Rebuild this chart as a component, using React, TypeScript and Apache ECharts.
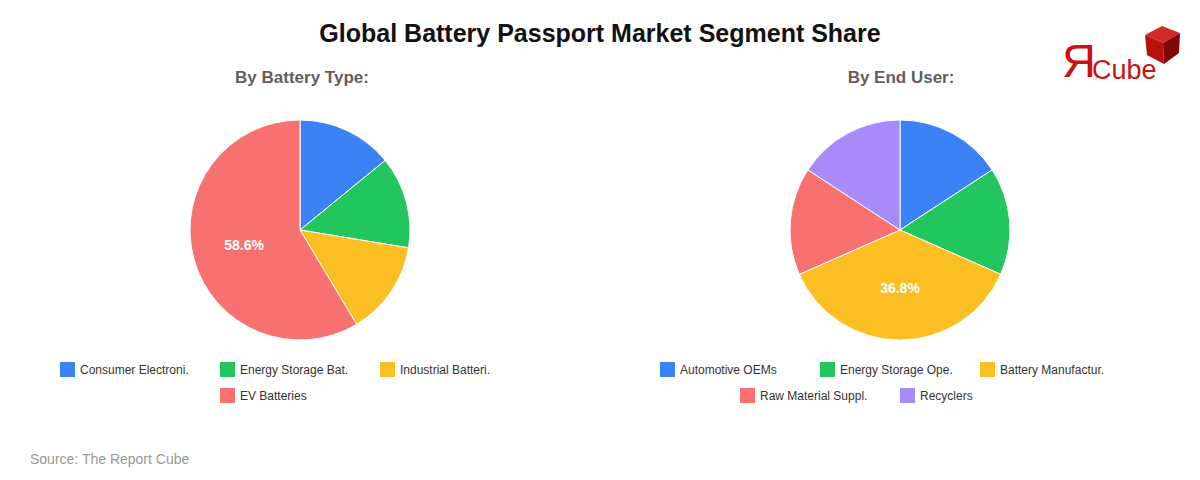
import React, { useEffect, useRef } from "react";
import * as echarts from "echarts";

const TITLE = "Global Battery Passport Market Segment Share";
const SOURCE = "Source: The Report Cube";

const typeTitle = "By Battery Type:";
const typeNames = ["Consumer Electroni.", "Energy Storage Bat.", "Industrial Batteri.", "EV Batteries"];
const typeValues = [14.1, 13.5, 13.8, 58.6];

const userTitle = "By End User:";
const userNames = ["Automotive OEMs", "Energy Storage Ope.", "Battery Manufactur.", "Raw Material Suppl.", "Recyclers"];
const userValues = [15.8, 15.8, 36.8, 15.8, 15.8];

const COLORS = ["#3b82f6", "#22c55e", "#fbbf24", "#f87171", "#a78bfa"];
const FONT = "'Liberation Sans', Arial, Helvetica, sans-serif";

// legend item positions (icon left x, row top y)
const typeLegendPos = [
  [60, 362],
  [220, 362],
  [380, 362],
  [220, 388],
];
const userLegendPos = [
  [660, 362],
  [820, 362],
  [980, 362],
  [740, 388],
  [900, 388],
];

function makePie(names: string[], values: number[], cx: number) {
  return {
    type: "pie",
    center: [cx, 230],
    radius: [0, 110],
    startAngle: 90,
    clockwise: true,
    avoidLabelOverlap: false,
    itemStyle: { borderColor: "#ffffff", borderWidth: 1 },
    label: {
      show: true,
      position: "inside",
      color: "#ffffff",
      fontSize: 14,
      fontWeight: "bold",
      fontFamily: FONT,
      formatter: (p: any) => (p.value > 30 ? p.value.toFixed(1) + "%" : ""),
    },
    labelLine: { show: false },
    emphasis: { disabled: true },
    data: names.map((n, i) => ({ name: n, value: values[i], itemStyle: { color: COLORS[i] } })),
  };
}

function makeLegends(names: string[], pos: number[][]) {
  return names.map((n, i) => ({
    data: [n],
    left: pos[i][0],
    top: pos[i][1],
    padding: 0,
    icon: "rect",
    itemWidth: 15,
    itemHeight: 15,
    itemGap: 5,
    itemStyle: { borderWidth: 0 },
    textStyle: { fontSize: 12, color: "#333333", fontFamily: FONT, padding: [0, 0, 0, 0] },
  }));
}

export default function App() {
  const ref = useRef<HTMLDivElement>(null);
  useEffect(() => {
    document.body.style.margin = "0";
    if (!ref.current) return;
    const chart = echarts.init(ref.current, null, { renderer: "svg" });
    chart.setOption({
      animation: false,
      backgroundColor: "#ffffff",
      title: [
        {
          text: TITLE,
          left: "center",
          top: 15,
          textStyle: { fontSize: 25, fontWeight: "bold", color: "#111111", fontFamily: FONT },
        },
        {
          text: typeTitle,
          left: 297,
          top: 64,
          textAlign: "center",
          textStyle: { fontSize: 17, fontWeight: "bold", color: "#5f5f5f", fontFamily: FONT },
        },
        {
          text: userTitle,
          left: 896,
          top: 64,
          textAlign: "center",
          textStyle: { fontSize: 17, fontWeight: "bold", color: "#5f5f5f", fontFamily: FONT },
        },
      ],
      legend: [...makeLegends(typeNames, typeLegendPos), ...makeLegends(userNames, userLegendPos)],
      series: [makePie(typeNames, typeValues, 300), makePie(userNames, userValues, 900)],
      graphic: [
        {
          type: "text",
          left: 30,
          top: 452,
          style: { text: SOURCE, fontSize: 14, fill: "#999999", fontFamily: FONT },
        },
        {
          type: "text",
          x: 1062,
          y: 84,
          style: { text: "Я", fontSize: 47, fill: "#cc1111", fontFamily: FONT, textVerticalAlign: "bottom" },
        },
        {
          type: "text",
          x: 1092,
          y: 83,
          style: { text: "Cube", fontSize: 27, fill: "#cc1111", fontFamily: FONT, textVerticalAlign: "bottom" },
        },
        {
          type: "polygon",
          shape: { points: [[1162, 26], [1180, 33], [1163, 43], [1145, 35]] },
          style: { fill: "#d62a2a" },
        },
        {
          type: "polygon",
          shape: { points: [[1145, 35], [1163, 43], [1164, 64], [1147, 55]] },
          style: { fill: "#b80f0f" },
        },
        {
          type: "polygon",
          shape: { points: [[1163, 43], [1180, 33], [1179, 53], [1164, 64]] },
          style: { fill: "#7e0606" },
        },
      ],
    });
    return () => chart.dispose();
  }, []);
  return <div ref={ref} style={{ width: 1200, height: 480 }} />;
}
